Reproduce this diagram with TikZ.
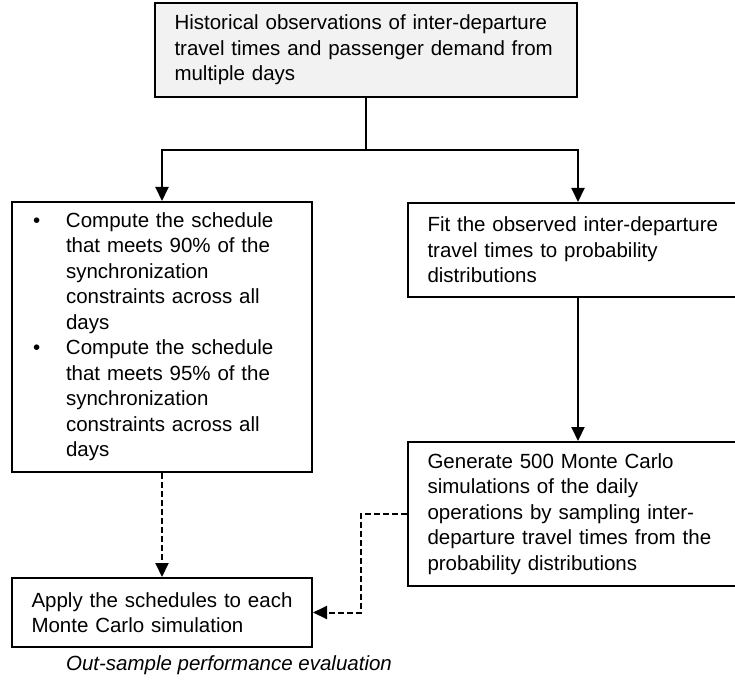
\documentclass[tikz,border=0pt]{standalone}
\usepackage{fontspec}
\setmainfont{Liberation Sans}
\usetikzlibrary{arrows.meta}

\definecolor{headfill}{RGB}{242,242,242}

\begin{document}
\begin{tikzpicture}[x=1pt,y=-1pt,
  box/.style={draw=black, line width=2pt, rectangle, align=left,
    inner xsep=19.5pt, inner ysep=4pt,
    font=\fontsize{20.5}{25.5}\selectfont},
  arr/.style={line width=2pt, -{Triangle[width=13pt,length=14pt]}},
  dasharr/.style={arr, dash pattern=on 6pt off 3pt},
  caption/.style={font=\fontsize{20.5}{25.5}\selectfont\itshape, inner sep=0pt}
]
\useasboundingbox (0,0) rectangle (735,684);

% data source
\node[box, fill=headfill, minimum width=422pt, minimum height=94pt, text width=383pt]
  (hist) at (366,50)
  {Historical observations of inter-departure\\travel times and passenger demand from\\multiple days};

% deterministic schedules
\node[box, minimum width=300pt, minimum height=270pt, text width=261pt]
  (sched) at (162,337)
  {\begin{tabular}{@{}p{34.5pt}@{}l@{}}
   \hspace*{1.5pt}\textbullet & Compute the schedule\\
   & that meets 90\% of the\\
   & synchronization\\
   & constraints across all\\
   & days\\
   \hspace*{1.5pt}\textbullet & Compute the schedule\\
   & that meets 95\% of the\\
   & synchronization\\
   & constraints across all\\
   & days
   \end{tabular}};

% distribution fitting
\node[box, minimum width=340pt, minimum height=94pt, text width=301pt]
  (fit) at (578,250)
  {Fit the observed inter-departure\\travel times to probability\\distributions};

% simulation
\node[box, minimum width=340pt, minimum height=144pt, text width=301pt]
  (sim) at (578,514)
  {Generate 500 Monte Carlo\\simulations of the daily\\operations by sampling inter-\\departure travel times from the\\probability distributions};

% evaluation
\node[box, minimum width=300pt, minimum height=69pt, text width=261pt]
  (apply) at (162,612.5)
  {Apply the schedules to each\\Monte Carlo simulation};

\node[caption] (cap) at (229,665) {Out-sample performance evaluation};

% connectors
\coordinate (split) at (366,150);
\draw[arr] (hist.south) -- (split) -| (sched.north);
\draw[arr] (hist.south) -- (split) -| (fit.north);
\draw[arr] (fit.south) -- (sim.north);
\draw[dasharr] (sched.south) -- (apply.north);
\coordinate (bend) at (361,514);
\draw[dasharr] (sim.west) -- (bend) |- (apply.east);
\end{tikzpicture}
\end{document}
